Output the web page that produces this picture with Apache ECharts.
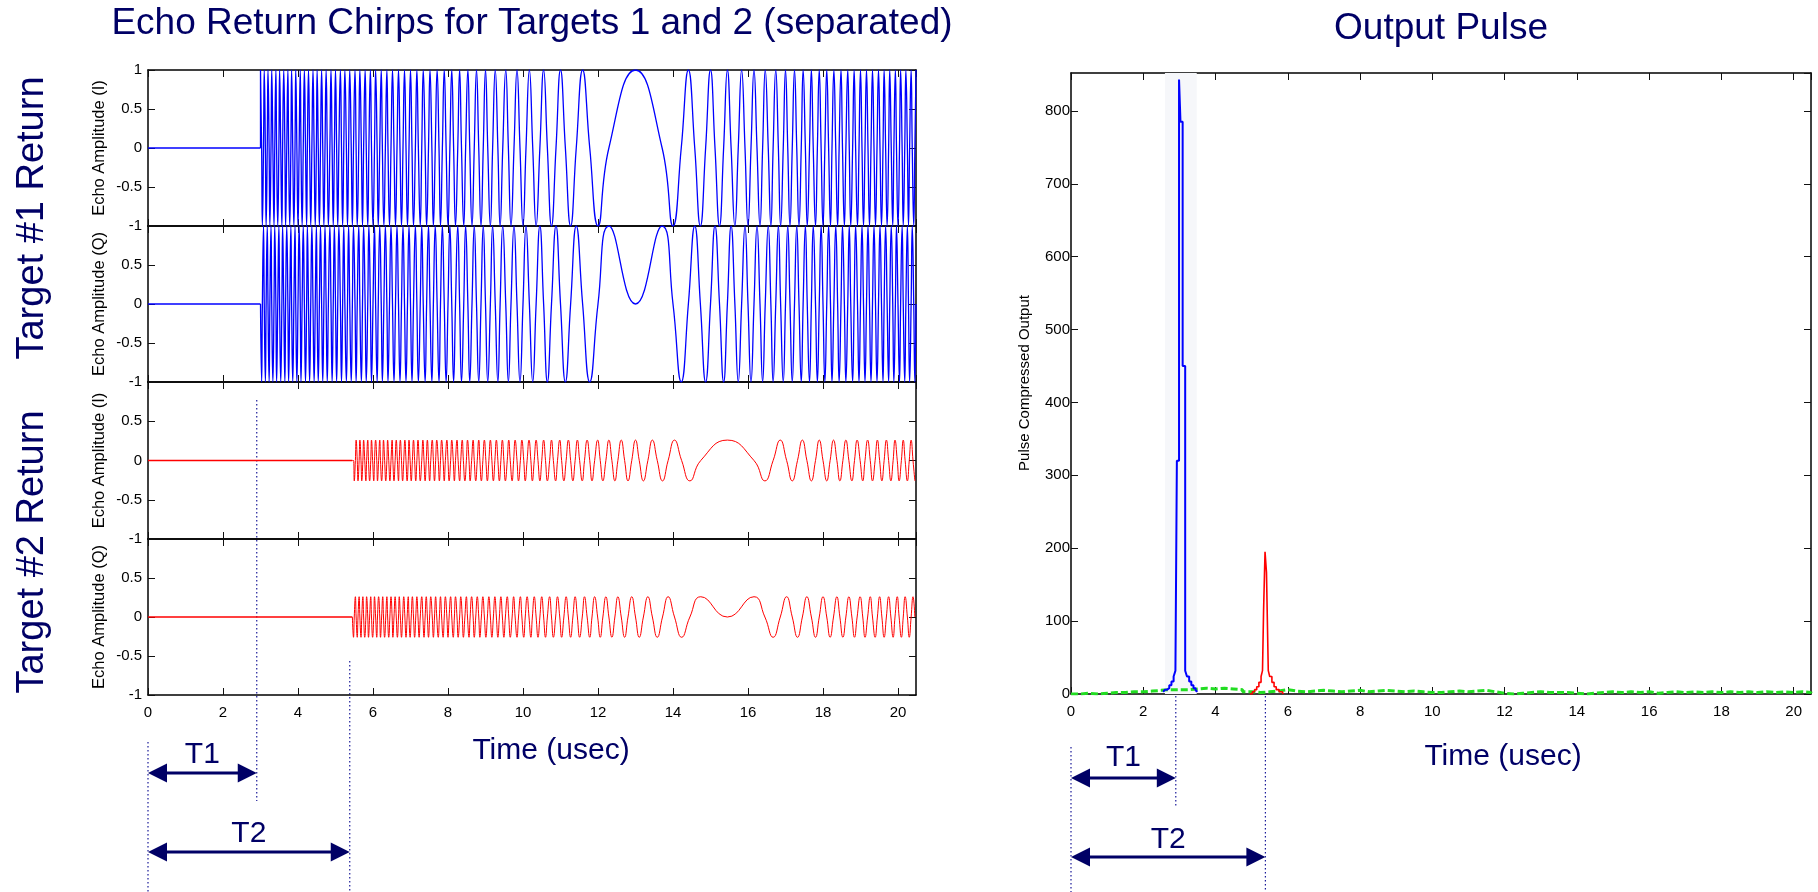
<!DOCTYPE html>
<html>
<head>
<meta charset="utf-8">
<title>Echo Return Chirps / Output Pulse</title>
<script src="https://cdn.jsdelivr.net/npm/echarts@6.0.0/dist/echarts.min.js"></script>
<style>
  html, body { margin: 0; padding: 0; background: #fff; }
  #main { width: 1818px; height: 892px; }
</style>
</head>
<body>
<div id="main"></div>
<script>
// ---------- data ----------
const timeMax = 20.48; // usec, end of the record

// quarter-cycle instants of the echo chirp, measured from the pulse centre (usec)
const chirpQuarterOffsets = [
  0, 0.71, 1.00, 1.22, 1.41, 1.58, 1.73, 1.87, 2.00, 2.12,
  2.24, 2.35, 2.45, 2.55, 2.65, 2.74, 2.83, 2.92, 3.00, 3.08,
  3.16, 3.24, 3.32, 3.39, 3.46, 3.54, 3.61, 3.67, 3.74, 3.81,
  3.87, 3.94, 4.00, 4.06, 4.12, 4.18, 4.24, 4.30, 4.36, 4.42,
  4.47, 4.53, 4.58, 4.64, 4.69, 4.74, 4.80, 4.85, 4.90, 4.95,
  5.00, 5.05, 5.10, 5.15, 5.20, 5.24, 5.29, 5.34, 5.39, 5.43,
  5.48, 5.52, 5.57, 5.61, 5.66, 5.70, 5.74, 5.79, 5.83, 5.87,
  5.92, 5.96, 6.00, 6.04, 6.08, 6.12, 6.16, 6.20, 6.24, 6.28,
  6.32, 6.36, 6.40, 6.44, 6.48, 6.52, 6.56, 6.60, 6.63, 6.67,
  6.71, 6.75, 6.78, 6.82, 6.86, 6.89, 6.93, 6.96, 7.00, 7.04,
  7.07, 7.11, 7.14, 7.18, 7.21, 7.25, 7.28, 7.31, 7.35, 7.38,
  7.42, 7.45, 7.48, 7.52, 7.55, 7.58, 7.62, 7.65, 7.68, 7.71,
  7.75, 7.78, 7.81, 7.84, 7.87, 7.91, 7.94, 7.97, 8.00, 8.03,
  8.06, 8.09, 8.12, 8.15, 8.19, 8.22, 8.25, 8.28, 8.31, 8.34,
  8.37, 8.40, 8.43, 8.46, 8.49, 8.51, 8.54, 8.57, 8.60, 8.63,
  8.66, 8.69, 8.72, 8.75, 8.77, 8.80, 8.83, 8.86, 8.89, 8.92,
  8.94, 8.97, 9.00, 9.03, 9.06, 9.08, 9.11, 9.14, 9.17, 9.19,
  9.22, 9.25, 9.27, 9.30, 9.33, 9.35, 9.38, 9.41, 9.43, 9.46,
  9.49, 9.51, 9.54, 9.57, 9.59, 9.62, 9.64, 9.67, 9.70, 9.72,
  9.75, 9.77, 9.80, 9.82, 9.85, 9.87, 9.90, 9.92, 9.95, 9.97,
  10.00
];
const levelsI = [1, 0, -1, 0];
const levelsQ = [0, 1, 0, -1];

const targetStarts = [3.0, 5.45];   // echo arrival (usec)
const targetCentres = [13.0, 15.45];
const targetAmps = [1, 0.26];

const delayMarks = [2.9, 5.38];     // T1, T2

// pulse compressed output
const pulse1Times = [2.55, 2.60, 2.66, 2.72, 2.78, 2.84, 2.89, 2.93, 2.99, 3.03, 3.09, 3.16, 3.21, 3.27, 3.33, 3.39, 3.45, 3.50];
const pulse1Values = [3, 6, 8, 12, 17, 24, 32, 320, 843, 785, 450, 32, 24, 17, 12, 8, 5, 3];
const pulse2Times = [4.95, 5.02, 5.08, 5.14, 5.20, 5.26, 5.30, 5.33, 5.37, 5.41, 5.46, 5.50, 5.56, 5.62, 5.68, 5.76, 5.84, 5.88];
const pulse2Values = [0, 3, 6, 10, 16, 24, 32, 115, 195, 167, 32, 24, 16, 10, 6, 3, 1, 0];
const noiseTimes = [
  0, 0.25, 0.5, 0.75, 1, 1.25, 1.5, 1.75, 2, 2.25, 2.5, 2.75, 3, 3.25, 3.5, 3.75,
  4, 4.25, 4.5, 4.75, 5, 5.25, 5.5, 5.75, 6, 6.25, 6.5, 6.75, 7, 7.25, 7.5, 7.75,
  8, 8.25, 8.5, 8.75, 9, 9.25, 9.5, 9.75, 10, 10.25, 10.5, 10.75, 11, 11.25, 11.5, 11.75,
  12, 12.25, 12.5, 12.75, 13, 13.25, 13.5, 13.75, 14, 14.25, 14.5, 14.75, 15, 15.25, 15.5, 15.75,
  16, 16.25, 16.5, 16.75, 17, 17.25, 17.5, 17.75, 18, 18.25, 18.5, 18.75, 19, 19.25, 19.5, 19.75,
  20, 20.25, 20.48
];
const noiseValues = [
  0, 1, 0, 1, 2, 2, 3, 3, 4, 5, 6, 6, 6, 7, 8, 7,
  8, 7, 6, 3, 2, 3, 4, 6, 4, 3, 4, 5, 4, 3, 4, 5,
  3, 4, 5, 4, 3, 4, 3, 2, 2, 3, 4, 3, 4, 5, 3, 1,
  0, 1, 2, 3, 2, 2, 2, 1, 0, 1, 2, 3, 2, 3, 2, 3,
  1, 2, 3, 2, 3, 2, 3, 2, 3, 2, 3, 2, 3, 2, 3, 2,
  3, 2, 3
];
const shadeBand = [2.6, 3.48];

// ---------- styling ----------
const FONT = '"Liberation Sans", Arial, sans-serif';
const NAVY = '#000066';
const leftTops = [70, 226, 382, 539];
const leftHeights = [156, 156, 157, 156];
const panelLabels = ['Echo Amplitude (I)', 'Echo Amplitude (Q)', 'Echo Amplitude (I)', 'Echo Amplitude (Q)'];

function chirpPoints(start, centre, amp, levels) {
  const pts = [[start, 0]];
  for (let m = chirpQuarterOffsets.length - 1; m >= 1; m--) {
    const t = centre - chirpQuarterOffsets[m];
    if (t >= start) pts.push([t, amp * levels[m % 4]]);
  }
  for (let m = 0; m < chirpQuarterOffsets.length; m++) {
    const t = centre + chirpQuarterOffsets[m];
    if (t > timeMax) break;
    pts.push([t, amp * levels[m % 4]]);
  }
  return pts;
}

const zip = (a, b) => a.map((v, i) => [v, b[i]]);

function timeAxis(gridIndex, position, showLabels) {
  return {
    type: 'value', gridIndex, position, min: 0, max: timeMax, interval: 2,
    axisLine: { show: true, onZero: false, lineStyle: { color: '#000', width: 1.5 } },
    axisTick: { show: true, inside: true, length: 7, lineStyle: { color: '#111' } },
    axisLabel: { show: showLabels, showMaxLabel: false, margin: 10, color: '#000', fontSize: 15, fontFamily: FONT },
    splitLine: { show: false }
  };
}

function valueAxis(gridIndex, position, min, max, interval, showLabels, showMax, margin) {
  return {
    type: 'value', gridIndex, position, min, max, interval,
    axisLine: { show: true, onZero: false, lineStyle: { color: '#000', width: 1.5 } },
    axisTick: { show: true, inside: true, length: 7, lineStyle: { color: '#111' } },
    axisLabel: { show: showLabels, showMaxLabel: showMax, margin, color: '#000', fontSize: 15, fontFamily: FONT },
    splitLine: { show: false }
  };
}

const grids = [];
const xAxes = [];
const yAxes = [];
const series = [];

leftTops.forEach((top, p) => {
  grids.push({ left: 148, width: 768, top, height: leftHeights[p], outerBoundsMode: 'none' });
  xAxes.push(timeAxis(p, 'bottom', p === 3));
  xAxes.push(timeAxis(p, 'top', false));
  yAxes.push(valueAxis(p, 'left', -1, 1, 0.5, true, p === 0, 6));
  yAxes.push(valueAxis(p, 'right', -1, 1, 0.5, false, false, 6));

  const tgt = p < 2 ? 0 : 1;
  const color = tgt === 0 ? '#0000ff' : '#ff0000';
  const levels = p % 2 === 0 ? levelsI : levelsQ;
  series.push({
    type: 'line', xAxisIndex: 2 * p, yAxisIndex: 2 * p, showSymbol: false, silent: true,
    data: [[0, 0], [targetStarts[tgt], 0]],
    lineStyle: { color, width: 1.3 }
  });
  series.push({
    type: 'line', xAxisIndex: 2 * p, yAxisIndex: 2 * p, showSymbol: false, silent: true,
    smooth: 0.5,
    data: chirpPoints(targetStarts[tgt], targetCentres[tgt], targetAmps[tgt], levels),
    lineStyle: { color, width: tgt === 0 ? 1.3 : 1 }
  });
});

grids.push({ left: 1071, width: 740, top: 73, height: 621, outerBoundsMode: 'none' });
xAxes.push(timeAxis(4, 'bottom', true));
xAxes.push(timeAxis(4, 'top', false));
yAxes.push(valueAxis(4, 'left', 0, 852, 100, true, false, 1));
yAxes.push(valueAxis(4, 'right', 0, 852, 100, false, false, 1));

series.push({
  type: 'line', xAxisIndex: 8, yAxisIndex: 8, showSymbol: false, silent: true, step: 'end',
  data: zip(noiseTimes, noiseValues),
  lineStyle: { color: '#22dd22', width: 3, type: [7, 3] },
  markArea: {
    silent: true,
    itemStyle: { color: '#f6f7fa' },
    data: [[{ xAxis: shadeBand[0] }, { xAxis: shadeBand[1] }]]
  }
});
series.push({
  type: 'line', xAxisIndex: 8, yAxisIndex: 8, showSymbol: false, silent: true, step: 'end',
  data: zip(pulse1Times, pulse1Values),
  lineStyle: { color: '#0000ff', width: 2 }
});
series.push({
  type: 'line', xAxisIndex: 8, yAxisIndex: 8, showSymbol: false, silent: true, step: 'end',
  data: zip(pulse2Times, pulse2Values),
  lineStyle: { color: '#ff0000', width: 1.6 }
});

const chart = echarts.init(document.getElementById('main'), null, { renderer: 'canvas' });
chart.setOption({
  backgroundColor: '#fff',
  animation: false,
  grid: grids,
  xAxis: xAxes,
  yAxis: yAxes,
  series
});

// ---------- annotations ----------
function text(str, x, y, size, rotation) {
  return {
    type: 'text', x, y, rotation: rotation || 0, silent: true,
    style: {
      text: str, x: 0, y: 0, fill: NAVY, font: size + 'px ' + FONT,
      align: 'center', verticalAlign: 'middle', textAlign: 'center', textVerticalAlign: 'middle'
    }
  };
}
function smallText(str, x, y, size, rotation) {
  const el = text(str, x, y, size, rotation);
  el.style.fill = '#000';
  return el;
}
function dotted(x, y1, y2) {
  return {
    type: 'line', silent: true, shape: { x1: x, y1, x2: x, y2 },
    style: { stroke: '#1a1a99', lineWidth: 1.2, lineDash: [1.5, 2.5] }
  };
}
function arrow(x1, x2, y) {
  const head = 19, half = 9.5;
  return [
    { type: 'line', silent: true, shape: { x1: x1 + head - 2, y1: y, x2: x2 - head + 2, y2: y }, style: { stroke: NAVY, lineWidth: 3 } },
    { type: 'polygon', silent: true, shape: { points: [[x1, y], [x1 + head, y - half], [x1 + head, y + half]] }, style: { fill: NAVY } },
    { type: 'polygon', silent: true, shape: { points: [[x2, y], [x2 - head, y - half], [x2 - head, y + half]] }, style: { fill: NAVY } }
  ];
}

const lx = (t) => chart.convertToPixel({ xAxisIndex: 6 }, t);
const rx = (t) => chart.convertToPixel({ xAxisIndex: 8 }, t);

const L0 = lx(0), L1 = lx(delayMarks[0]), L2 = lx(delayMarks[1]);
const R0 = rx(0), R1 = rx(delayMarks[0]), R2 = rx(delayMarks[1]);

const graphic = [
  text('Echo Return Chirps for Targets 1 and 2 (separated)', 532, 24, 37),
  text('Output Pulse', 1441, 29, 37),
  text('Target #1 Return', 33, 218, 38, Math.PI / 2),
  text('Target #2 Return', 33, 552, 38, Math.PI / 2),
  text('Time (usec)', 551, 751, 30),
  text('Time (usec)', 1503, 757, 30),
  smallText('Pulse Compressed Output', 1025, 383, 15, Math.PI / 2),
  dotted(L0, 742, 892),
  dotted(L1, 400, 801),
  dotted(L2, 661, 892),
  dotted(R0, 747, 892),
  dotted(R1, 696, 807),
  dotted(R2, 696, 892),
  ...arrow(L0, L1, 773),
  ...arrow(L0, L2, 852),
  ...arrow(R0, R1, 778),
  ...arrow(R0, R2, 857),
  text('T1', (L0 + L1) / 2, 755, 30),
  text('T2', (L0 + L2) / 2, 834, 30),
  text('T1', (R0 + R1) / 2, 758, 30),
  text('T2', (R0 + R2) / 2, 840, 30)
];
leftTops.forEach((top, p) => {
  graphic.push(smallText(panelLabels[p], 99, top + leftHeights[p] / 2, 16.5, Math.PI / 2));
});

chart.setOption({ graphic });
</script>
</body>
</html>
